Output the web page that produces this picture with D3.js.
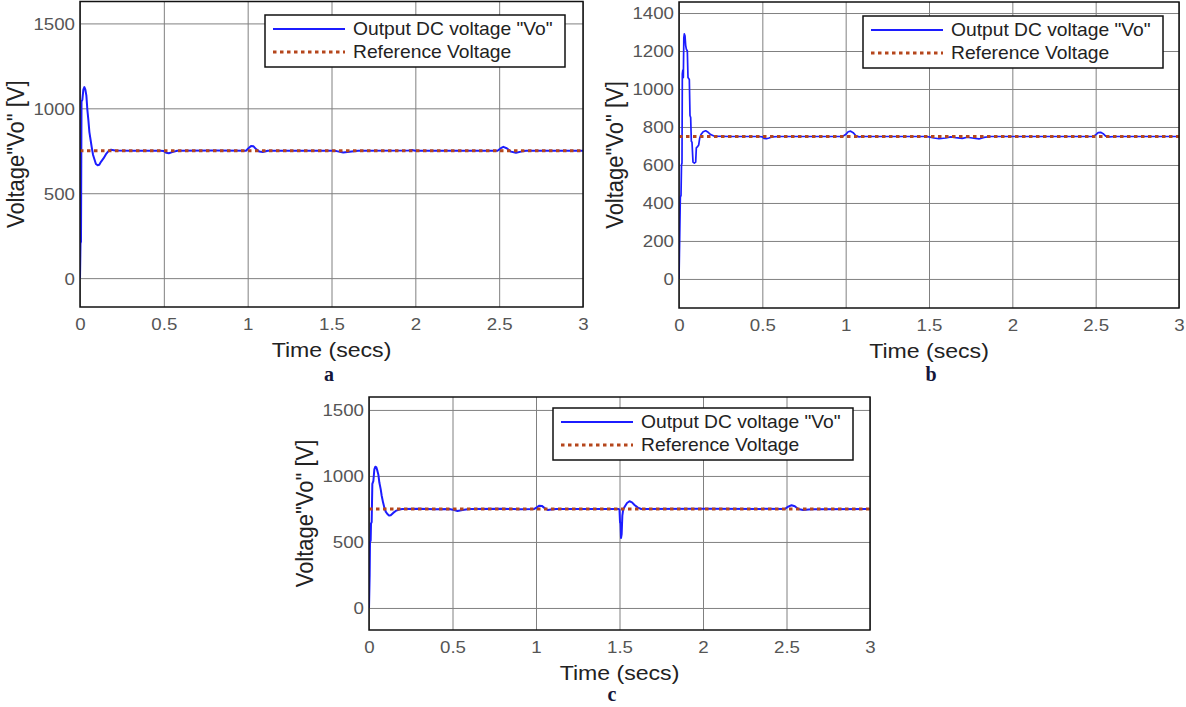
<!DOCTYPE html>
<html>
<head>
<meta charset="utf-8">
<script src="https://cdn.jsdelivr.net/npm/d3@7"></script>
<style>
  body { margin: 0; background: #fff; }
  svg { display: block; }
</style>
</head>
<body>
<svg id="chart" width="1186" height="707"></svg>
<script>
// ---- data -------------------------------------------------------------
const timeTicks = [0, 0.5, 1, 1.5, 2, 2.5, 3];
const timeTickLabels = ["0", "0.5", "1", "1.5", "2", "2.5", "3"];
const voltTicksA = [0, 500, 1000, 1500];
const voltTicksB = [0, 200, 400, 600, 800, 1000, 1200, 1400];
const voltTicksC = [0, 500, 1000, 1500];

const seriesNames = ['Output DC voltage "Vo"', "Reference Voltage"];
const panelLabels = ["a", "b", "c"];
const xAxisTitle = "Time (secs)";
const yAxisTitle = 'Voltage"Vo" [V]';

// reference voltage (constant set point)
const refTime = [0, 3];
const refVolt = [750, 750];

// case a: output voltage
const timeA = [0, 0.003, 0.006, 0.009, 0.014, 0.02, 0.026, 0.032, 0.038, 0.044, 0.05, 0.056,
  0.063, 0.07, 0.078, 0.086, 0.095, 0.105, 0.115, 0.125, 0.14, 0.155, 0.17, 0.185, 0.21, 0.3,
  0.48, 0.5, 0.515, 0.53, 0.55, 0.58, 0.8, 0.99, 1.005, 1.02, 1.035, 1.05, 1.07, 1.09, 1.12,
  1.5, 1.53, 1.57, 1.62, 1.66, 1.96, 1.98, 2.0, 2.49, 2.51, 2.525, 2.545, 2.57, 2.6, 2.63, 2.66, 3.0];
const voltA = [0, 205, 215, 1040, 1050, 1110, 1125, 1110, 1075, 990, 930, 860,
  815, 770, 725, 700, 672, 665, 668, 685, 705, 730, 748, 756, 752, 750,
  750, 748, 738, 735, 742, 750, 751, 750, 765, 778, 776, 760, 745, 743, 750,
  750, 748, 740, 746, 750, 752, 755, 750, 750, 765, 773, 765, 745, 738, 745, 750, 750];

// case b: output voltage
const timeB = [0, 0.004, 0.008, 0.012, 0.015, 0.018, 0.02, 0.023, 0.026, 0.029, 0.032, 0.036,
  0.04, 0.044, 0.05, 0.054, 0.062, 0.066, 0.07, 0.074, 0.078, 0.084, 0.092, 0.1, 0.104, 0.11,
  0.118, 0.124, 0.132, 0.145, 0.16, 0.175, 0.19, 0.21, 0.3, 0.48, 0.5, 0.51, 0.525, 0.54, 0.56,
  0.6, 0.98, 1.0, 1.015, 1.03, 1.045, 1.06, 1.08, 1.1, 1.48, 1.5, 1.53, 1.56, 1.6, 1.63, 1.66,
  1.7, 1.73, 1.76, 1.8, 1.83, 1.87, 1.9, 2.0, 2.48, 2.5, 2.515, 2.53, 2.545, 2.56, 2.58, 2.62, 3.0];
const voltB = [0, 210, 430, 440, 600, 610, 1080, 1100, 1060, 1270, 1290, 1280,
  1230, 1210, 1200, 1060, 1050, 860, 850, 725, 720, 615, 610, 615, 690, 695,
  705, 740, 760, 775, 780, 772, 760, 752, 750, 750, 748, 740, 738, 742, 748,
  750, 750, 760, 775, 778, 770, 755, 748, 750, 750, 748, 742, 738, 742, 748, 744,
  740, 746, 742, 737, 745, 750, 750, 750, 750, 758, 770, 772, 765, 752, 748, 750, 750];

// case c: output voltage
const timeC = [0, 0.004, 0.006, 0.01, 0.012, 0.016, 0.02, 0.026, 0.032, 0.038, 0.044, 0.05,
  0.056, 0.062, 0.07, 0.076, 0.084, 0.092, 0.1, 0.11, 0.12, 0.13, 0.145, 0.16, 0.18, 0.2, 0.3,
  0.4, 0.48, 0.51, 0.53, 0.56, 0.6, 0.8, 0.9, 0.99, 1.005, 1.02, 1.035, 1.05, 1.07, 1.09, 1.12,
  1.495, 1.5, 1.503, 1.506, 1.509, 1.513, 1.517, 1.522, 1.53, 1.545, 1.56, 1.575, 1.59, 1.61,
  1.63, 2.0, 2.49, 2.51, 2.53, 2.55, 2.57, 2.6, 2.65, 3.0];
const voltC = [0, 250, 500, 510, 640, 650, 940, 960, 1050, 1070, 1065, 1040,
  1010, 950, 900, 850, 800, 760, 730, 712, 700, 702, 720, 735, 745, 750, 752,
  748, 750, 742, 735, 742, 750, 752, 748, 750, 762, 775, 773, 758, 742, 745, 750,
  750, 745, 650, 640, 530, 560, 700, 745, 765, 795, 808, 800, 780, 760,
  750, 752, 750, 768, 778, 770, 750, 742, 748, 750];

// ---- layout -------------------------------------------------------------
const panels = [
  { time: timeA, volt: voltA, yTicks: voltTicksA, yDomain: [-170, 1629],
    left: 80, right: 583, top: 1.5, bottom: 307, lw: 2, label: panelLabels[0], labelX: 329, labelY: 381,
    legend: { x: 265, y: 15 } },
  { time: timeB, volt: voltB, yTicks: voltTicksB, yDomain: [-153, 1458],
    left: 679, right: 1179, top: 2, bottom: 308, lw: 1.7, label: panelLabels[1], labelX: 931, labelY: 381,
    legend: { x: 863, y: 16 } },
  { time: timeC, volt: voltC, yTicks: voltTicksC, yDomain: [-167, 1598],
    left: 369, right: 870, top: 397, bottom: 630, lw: 2, label: panelLabels[2], labelX: 612, labelY: 701,
    legend: { x: 553, y: 408 } }
];

const BLUE = "#1c1cff";
const REF = "#b5461c";
const GRID = "#808080";
const FONT = "'Liberation Sans', Arial, Helvetica, sans-serif";
const SX = 1.1; // horizontal glyph stretch

const svg = d3.select("#chart");
svg.append("rect").attr("width", 1186).attr("height", 707).attr("fill", "#fff");

function place(x, y, rot) {
  return `translate(${x},${y}) scale(${SX},1)` + (rot ? ` rotate(${rot})` : "");
}

panels.forEach((p, i) => {
  const w = p.right - p.left, h = p.bottom - p.top;
  const x = d3.scaleLinear().domain([0, 3]).range([p.left, p.right]);
  const y = d3.scaleLinear().domain(p.yDomain).range([p.bottom, p.top]);
  const g = svg.append("g");

  // clip for data
  const clipId = "clip" + i;
  svg.append("clipPath").attr("id", clipId)
    .append("rect").attr("x", p.left).attr("y", p.top).attr("width", w).attr("height", h);

  // x grid + tick labels
  const xAxis = g.append("g").attr("transform", `translate(0,${p.bottom})`)
    .call(d3.axisBottom(x).tickValues(timeTicks).tickFormat((d, k) => timeTickLabels[k])
      .tickSize(-h).tickSizeOuter(0));
  xAxis.select(".domain").remove();
  xAxis.selectAll(".tick line").attr("stroke", GRID).attr("stroke-width", 1);
  xAxis.selectAll(".tick text")
    .attr("x", null).attr("y", null).attr("dy", null)
    .attr("transform", place(0, 23))
    .attr("fill", "#555").attr("font-family", FONT).attr("font-size", 17);

  // y grid + tick labels
  const yAxis = g.append("g").attr("transform", `translate(${p.left},0)`)
    .call(d3.axisLeft(y).tickValues(p.yTicks).tickFormat(d3.format("d"))
      .tickSize(-w).tickSizeOuter(0));
  yAxis.select(".domain").remove();
  yAxis.selectAll(".tick line").attr("stroke", GRID).attr("stroke-width", 1);
  yAxis.selectAll(".tick text")
    .attr("x", null).attr("dy", "0.35em")
    .attr("transform", place(-5, 0))
    .attr("fill", "#555").attr("font-family", FONT).attr("font-size", 17);

  // output voltage trace
  const pts = p.time.map((t, k) => [t, p.volt[k]]);
  const line = d3.line().x(d => x(d[0])).y(d => y(d[1]));
  g.append("path").datum(pts).attr("clip-path", `url(#${clipId})`)
    .attr("d", line).attr("fill", "none").attr("stroke", BLUE)
    .attr("stroke-width", p.lw).attr("stroke-linejoin", "round");

  // reference voltage
  const refPts = refTime.map((t, k) => [t, refVolt[k]]);
  g.append("path").datum(refPts).attr("clip-path", `url(#${clipId})`)
    .attr("d", line).attr("fill", "none").attr("stroke", REF)
    .attr("stroke-width", 3).attr("stroke-dasharray", "3.5,3.5");

  // axes frame
  g.append("rect").attr("x", p.left).attr("y", p.top).attr("width", w).attr("height", h)
    .attr("fill", "none").attr("stroke", "#111").attr("stroke-width", 1.5);

  // axis titles
  g.append("text").text(xAxisTitle)
    .attr("transform", place((p.left + p.right) / 2, p.bottom + 50))
    .attr("text-anchor", "middle").attr("font-family", FONT).attr("font-size", 21)
    .attr("fill", "#222");
  g.append("text").text(yAxisTitle)
    .attr("transform", place(p.left - 56, (p.top + p.bottom) / 2, -90))
    .attr("text-anchor", "middle").attr("font-family", FONT).attr("font-size", 22)
    .attr("fill", "#222");

  // legend
  const L = p.legend;
  const lg = g.append("g");
  lg.append("rect").attr("x", L.x).attr("y", L.y).attr("width", 300).attr("height", 52)
    .attr("fill", "#fff").attr("stroke", "#111").attr("stroke-width", 1.5);
  lg.append("line").attr("x1", L.x + 8).attr("x2", L.x + 80)
    .attr("y1", L.y + 14).attr("y2", L.y + 14).attr("stroke", BLUE).attr("stroke-width", 2);
  lg.append("line").attr("x1", L.x + 8).attr("x2", L.x + 80)
    .attr("y1", L.y + 37).attr("y2", L.y + 37).attr("stroke", REF).attr("stroke-width", 3)
    .attr("stroke-dasharray", "3.5,3.5");
  seriesNames.forEach((name, k) => {
    lg.append("text").text(name)
      .attr("transform", place(L.x + 88, L.y + 20 + k * 23))
      .attr("font-family", FONT).attr("font-size", 17.5).attr("fill", "#222");
  });

  // panel letter
  svg.append("text").text(p.label)
    .attr("x", p.labelX).attr("y", p.labelY).attr("text-anchor", "middle")
    .attr("font-family", "'Liberation Serif', 'Times New Roman', serif")
    .attr("font-weight", "bold").attr("font-size", 20).attr("fill", "#14163a");
});
</script>
</body>
</html>
